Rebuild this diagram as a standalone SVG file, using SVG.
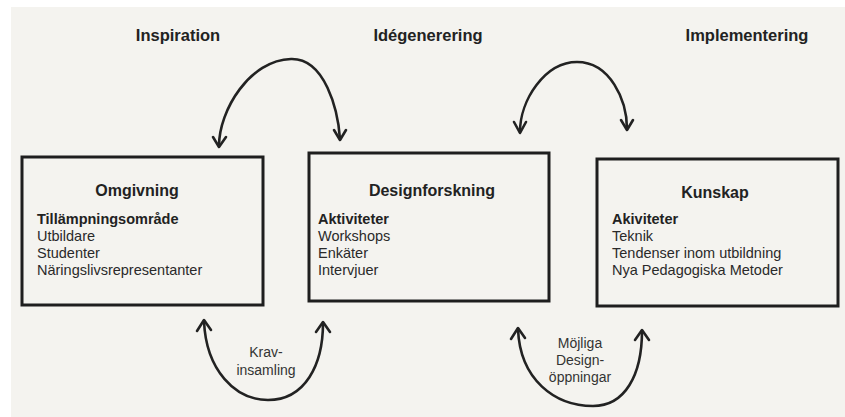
<svg xmlns="http://www.w3.org/2000/svg" width="845" height="417" viewBox="0 0 845 417">
<defs>
<style>
.bg{fill:#f4f3ef}
.box{fill:none;stroke:#1e1e1e;stroke-width:3}
.arc{fill:none;stroke:#222;stroke-width:2.6;stroke-linecap:round}
.head{fill:none;stroke:#222;stroke-width:2.6;stroke-linecap:round;stroke-linejoin:round}
text{font-family:"Liberation Sans",Arial,sans-serif;fill:#222}
.hdr{font-size:16.5px;font-weight:bold;text-anchor:middle}
.title{font-size:16px;font-weight:bold;text-anchor:middle}
.sub{font-size:14.5px;font-weight:bold}
.item{font-size:14.5px;fill:#2a2a2a}
.lbl{font-size:14px;fill:#333;text-anchor:middle}
</style>
</defs>
<rect x="11" y="7" width="834" height="410" class="bg"/>
<g id="headers">
<text class="hdr" x="178" y="41">Inspiration</text>
<text class="hdr" x="428" y="41">Idégenerering</text>
<text class="hdr" x="747" y="41">Implementering</text>
</g>
<g id="omgivning">
<rect class="box" x="22" y="157" width="241" height="148"/>
<text class="title" x="137" y="196">Omgivning</text>
<text class="sub" x="37" y="224">Tillämpningsområde</text>
<text class="item" x="37" y="241">Utbildare</text>
<text class="item" x="37" y="258">Studenter</text>
<text class="item" x="37" y="275">Näringslivsrepresentanter</text>
</g>
<g id="designforskning">
<rect class="box" x="309" y="153" width="240" height="148"/>
<text class="title" x="432" y="196">Designforskning</text>
<text class="sub" x="318" y="224">Aktiviteter</text>
<text class="item" x="318" y="241">Workshops</text>
<text class="item" x="318" y="258">Enkäter</text>
<text class="item" x="318" y="275">Intervjuer</text>
</g>
<g id="kunskap">
<rect class="box" x="597" y="159" width="241" height="147"/>
<text class="title" x="715" y="198">Kunskap</text>
<text class="sub" x="612" y="224">Akiviteter</text>
<text class="item" x="612" y="241">Teknik</text>
<text class="item" x="612" y="258">Tendenser inom utbildning</text>
<text class="item" x="612" y="275">Nya Pedagogiska Metoder</text>
</g>
<g id="connectors">
<path class="arc" d="M219,146 C219,110 250,60 291,59 C325,58 338,110 340,139"/>
<path class="head" d="M213,137 L219,147 L226,137"/>
<path class="head" d="M334,130 L340,140 L346,130"/>
<path class="arc" d="M520,132 C520,100 545,62 577,62 C610,62 627,100 627,129"/>
<path class="head" d="M514,122 L520,133 L526,122"/>
<path class="head" d="M621,120 L627,130 L633,120"/>
<path class="arc" d="M204,321 C206,370 235,400 268,400 C305,400 323,365 323,323"/>
<path class="head" d="M197,331 L204,320 L211,330"/>
<path class="head" d="M316,332 L323,322 L330,332"/>
<path class="arc" d="M518,329 C520,380 555,406 593,406 C625,406 642,375 642,331"/>
<path class="head" d="M511,339 L518,328 L525,338"/>
<path class="head" d="M635,340 L642,330 L649,340"/>
</g>
<g id="labels">
<text class="lbl" x="266" y="357">Krav-</text>
<text class="lbl" x="266" y="375">insamling</text>
<text class="lbl" x="580" y="348">Möjliga</text>
<text class="lbl" x="580" y="365">Design-</text>
<text class="lbl" x="580" y="382">öppningar</text>
</g>
</svg>
